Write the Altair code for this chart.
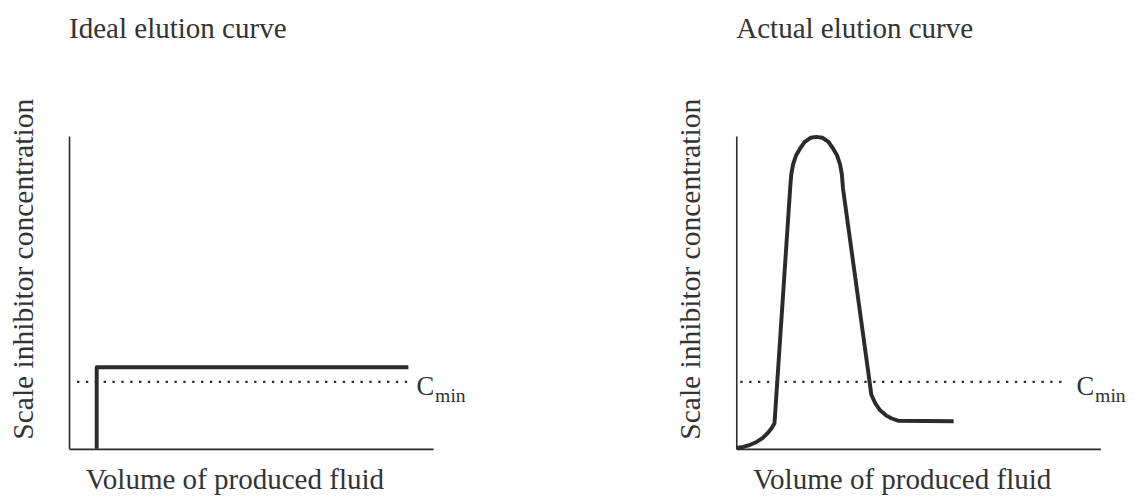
import altair as alt
import pandas as pd

# ---- data (0-100 relative units) ----
ideal_x = [7.6, 7.6, 93.2]
ideal_y = [0.0, 26.1, 26.1]

actual_x = [0.0, 1.9, 3.8, 5.6, 7.3, 8.6, 9.7, 10.5,
            14.8, 15.1, 15.6, 16.4, 17.5, 18.8, 20.4, 22.0,
            23.7, 25.3, 26.6, 27.7, 28.5, 29.0, 29.3,
            37.1, 38.2, 39.5, 41.1, 42.7, 44.4, 59.7]
actual_y = [0.3, 0.6, 1.3, 2.2, 3.5, 5.0, 6.6, 8.2,
            83.3, 87.7, 90.9, 93.7, 95.9, 98.1, 99.4, 99.7,
            99.4, 98.1, 95.9, 93.7, 90.9, 87.7, 83.3,
            17.3, 14.5, 12.3, 10.7, 9.7, 9.0, 8.8]

cmin_level = 21.4
ideal_cmin_span = [2.2, 94.3]
actual_cmin_span = [1.1, 91.1]
ideal_label_x = 95.4
actual_label_x = 93.4

titles = ["Ideal elution curve", "Actual elution curve"]
x_title = "Volume of produced fluid"
y_title = "Scale inhibitor concentration"

FONT = "Liberation Serif"
TEXT = "#333333"
INK = "#2b2b2b"
W, H = 370, 318


def panel(title, cx, cy, span, label_x):
    curve = pd.DataFrame({"x": cx, "y": cy, "i": list(range(len(cx)))})
    dots = pd.DataFrame({"x": [span[0]], "x2": [span[1]], "y": [cmin_level]})
    lab = pd.DataFrame({"x": [label_x], "y": [cmin_level]})

    xs = alt.Scale(domain=[0, 100], nice=False, zero=True)
    ys = alt.Scale(domain=[0, 100], nice=False, zero=True)
    xa = alt.Axis(title=x_title, domain=True, ticks=False, labels=False, grid=False,
                  domainColor=INK, domainWidth=1.6, titleFont=FONT, titleFontSize=29.5,
                  titleFontWeight="normal", titleColor=TEXT, titleX=168, titleY=40,
                  titleAlign="center", titleBaseline="alphabetic")
    ya = alt.Axis(title=y_title, domain=True, ticks=False, labels=False, grid=False,
                  domainColor=INK, domainWidth=1.6, titleFont=FONT, titleFontSize=30,
                  titleFontWeight="normal", titleColor=TEXT, titleX=-37, titleY=135,
                  titleAngle=270, titleAlign="center", titleBaseline="alphabetic")

    line = alt.Chart(curve).mark_line(color=INK, strokeWidth=4, strokeJoin="round").encode(
        x=alt.X("x:Q", scale=xs, axis=xa),
        y=alt.Y("y:Q", scale=ys, axis=ya),
        order="i:Q",
    )
    dotted = alt.Chart(dots).mark_rule(color=INK, strokeWidth=2.4, strokeDash=[2.4, 6.6]).encode(
        x=alt.X("x:Q", scale=xs), x2="x2:Q", y=alt.Y("y:Q", scale=ys)
    )
    c_lab = alt.Chart(lab).mark_text(text="C", font=FONT, fontSize=27, color=TEXT,
                                     align="left", baseline="alphabetic", dy=13).encode(
        x=alt.X("x:Q", scale=xs), y=alt.Y("y:Q", scale=ys))
    sub_lab = alt.Chart(lab).mark_text(text="min", font=FONT, fontSize=20, color=TEXT,
                                       align="left", baseline="alphabetic", dx=19, dy=20).encode(
        x=alt.X("x:Q", scale=xs), y=alt.Y("y:Q", scale=ys))

    return alt.layer(dotted, line, c_lab, sub_lab).properties(
        width=W, height=H,
        title=alt.TitleParams(title, anchor="start", frame="group", font=FONT, fontSize=29.5,
                              fontWeight="normal", color=TEXT, offset=32,
                              baseline="alphabetic"),
    )


left = panel(titles[0], ideal_x, ideal_y, ideal_cmin_span, ideal_label_x)
right = panel(titles[1], actual_x, actual_y, actual_cmin_span, actual_label_x)

chart = (
    alt.hconcat(left, right, spacing=212)
    .properties(padding={"left": 0, "top": 2, "right": 0, "bottom": 0})
    .configure_view(stroke=None)
    .configure_axis(titleFont=FONT)
    .configure_title(font=FONT)
)

chart.save("out.html", embed_options={"renderer": "svg", "actions": False})
